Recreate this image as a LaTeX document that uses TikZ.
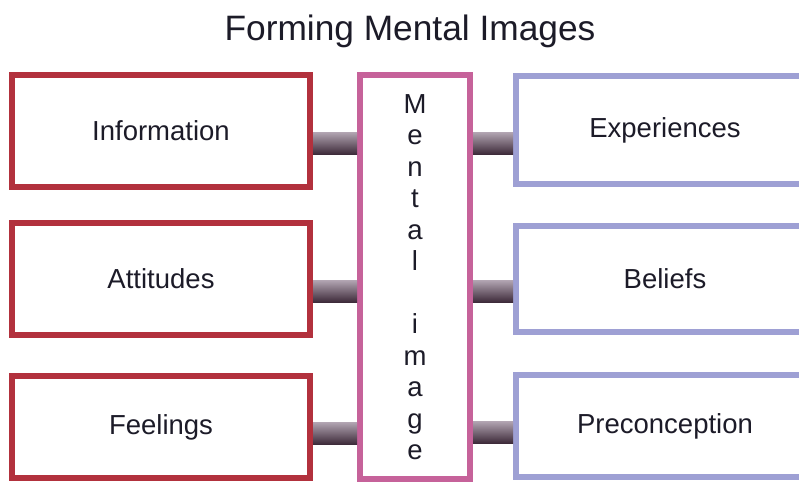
\documentclass[tikz,border=0pt]{standalone}
\usepackage{fontspec}
\setmainfont{Liberation Sans}
\usetikzlibrary{calc}
\definecolor{redframe}{HTML}{B2313D}
\definecolor{pinkframe}{HTML}{C6629A}
\definecolor{lavframe}{HTML}{9EA0D4}
\definecolor{inkdark}{HTML}{1C1B28}
\definecolor{barDark}{HTML}{3E2B3A}
\definecolor{barMid}{HTML}{6E5868}
\definecolor{barLight}{HTML}{B3A6B3}
\tikzset{
  boxbase/.style={rectangle, line width=6pt, fill=white, text=inkdark,
    font=\fontsize{27.5}{31.5}\selectfont, inner sep=0pt},
  leftbox/.style={boxbase, draw=redframe, minimum width=298pt},
  rightbox/.style={boxbase, draw=lavframe, minimum width=298pt},
  midbox/.style={boxbase, draw=pinkframe, minimum width=110pt, minimum height=404pt},
  % y axis points down, so the shading's "bottom" lands at the visual top
  bar/.style={bottom color=barDark, middle color=barMid, top color=barLight},
  titletext/.style={font=\fontsize{35.3}{40}\selectfont, text=inkdark, inner sep=0pt}
}
\begin{document}
\begin{tikzpicture}[x=1pt,y=-1pt]
  \useasboundingbox (0,0) rectangle (799,484);
  \clip (0,0) rectangle (799,484);
  \fill[white] (0,0) rectangle (799,484);

  % title
  \node[titletext, anchor=base] (title) at (410,41) {Forming Mental Images};

  % left column
  \node[leftbox, minimum height=112pt] (info) at (161,131) {Information};
  \node[leftbox, minimum height=112pt] (att)  at (161,279) {Attitudes};
  \node[leftbox, minimum height=102pt] (feel) at (161,427) {Feelings};

  % centre column
  \node[midbox, align=center] (mid) at (415,277)
    {M\\e\\n\\t\\a\\l\\\mbox{}\\i\\m\\a\\g\\e};

  % right column (runs past the right edge)
  \node[rightbox, minimum height=108pt] (exp)  at (665,130) {Experiences};
  \node[rightbox, minimum height=106pt] (bel)  at (665,279) {Beliefs};
  \node[rightbox, minimum height=102pt] (pre)  at (665,426) {Preconception};

  % connectors, left side
  \shade[bar] ($(info.east)+(0,1)$) rectangle ($(mid.west |- info.east)+(0,23)$);
  \shade[bar] ($(att.east)+(0,1)$)  rectangle ($(mid.west |- att.east)+(0,23)$);
  \shade[bar] ($(feel.east)+(0,-5)$) rectangle ($(mid.west |- feel.east)+(0,17)$);

  % connectors, right side
  \shade[bar] ($(mid.east |- exp.west)+(0,2)$) rectangle ($(exp.west)+(0,24)$);
  \shade[bar] ($(mid.east |- bel.west)+(0,1)$) rectangle ($(bel.west)+(0,23)$);
  \shade[bar] ($(mid.east |- pre.west)+(0,-5)$) rectangle ($(pre.west)+(0,17)$);
\end{tikzpicture}
\end{document}
